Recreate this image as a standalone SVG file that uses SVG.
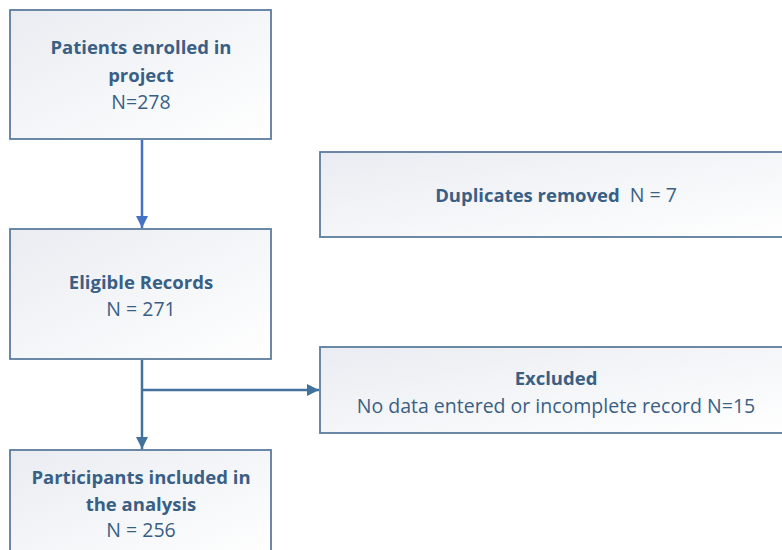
<svg xmlns="http://www.w3.org/2000/svg" width="782" height="550" viewBox="0 0 782 550">
<defs>
<linearGradient id="g" x1="0" y1="0" x2="1" y2="1">
<stop offset="0" stop-color="#e9ecf1"/>
<stop offset="1" stop-color="#ffffff"/>
</linearGradient>
<marker id="ah1" viewBox="0 0 10 10" refX="10" refY="5" markerWidth="5" markerHeight="5" orient="auto" markerUnits="strokeWidth">
<path d="M0,0 L10,5 L0,10 Z" fill="#4472c4"/>
</marker>
<marker id="ah2" viewBox="0 0 10 10" refX="10" refY="5" markerWidth="5" markerHeight="5" orient="auto" markerUnits="strokeWidth">
<path d="M0,0 L10,5 L0,10 Z" fill="#41719c"/>
</marker>
</defs>
<style>
.box{fill:url(#g);stroke:#5d7c9e;stroke-width:1.8}
text{font-family:"Open Sans","Liberation Sans",sans-serif;fill:#3a5f85;text-anchor:middle;font-size:19.5px}
.b{font-weight:bold;font-size:18.5px}
</style>
<g id="connectors" fill="none" stroke-width="2.5">
<line x1="142" y1="140" x2="142" y2="228" stroke="#4472c4" marker-end="url(#ah1)"/>
<line x1="142" y1="360" x2="142" y2="449" stroke="#41719c" marker-end="url(#ah2)"/>
<line x1="142" y1="390" x2="319" y2="390" stroke="#41719c" marker-end="url(#ah2)"/>
</g>
<g id="n1">
<rect class="box" x="10" y="10" width="261" height="129"/>
<text class="b" x="141" y="54">Patients enrolled in</text>
<text class="b" x="141" y="82">project</text>
<text x="141" y="109">N=278</text>
</g>
<g id="n2">
<rect class="box" x="320" y="152" width="470" height="85"/>
<text x="556" y="202"><tspan class="b">Duplicates removed</tspan><tspan dx="10">N = 7</tspan></text>
</g>
<g id="n3">
<rect class="box" x="10" y="229" width="261" height="130"/>
<text class="b" x="141" y="289">Eligible Records</text>
<text x="141" y="316">N = 271</text>
</g>
<g id="n4">
<rect class="box" x="320" y="347" width="470" height="86"/>
<text class="b" x="556" y="385">Excluded</text>
<text x="556" y="413">No data entered or incomplete record N=15</text>
</g>
<g id="n5">
<rect class="box" x="10" y="450" width="261" height="110"/>
<text class="b" x="141" y="484">Participants included in</text>
<text class="b" x="141" y="511">the analysis</text>
<text x="141" y="537">N = 256</text>
</g>
</svg>
